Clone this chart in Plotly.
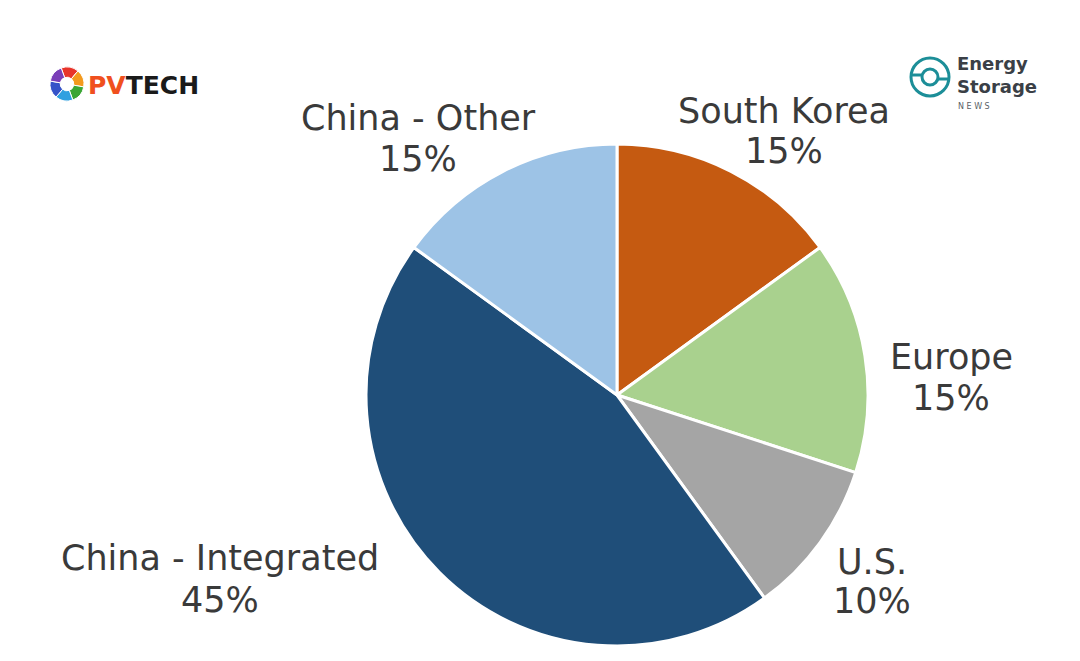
import plotly.graph_objects as go

# ---- data ----
labels = ["South Korea", "Europe", "U.S.", "China - Integrated", "China - Other"]
values = [15, 15, 10, 45, 15]
colors = ["#C55A11", "#A9D18E", "#A5A5A5", "#1F4E79", "#9DC3E6"]
pct_text = ["15%", "15%", "10%", "45%", "15%"]

# label placement (page px: center x, name line y, pct line y from top)
label_pos = {
    "South Korea": (784, 111, 151),
    "Europe": (951, 357, 398),
    "U.S.": (872, 562, 601),
    "China - Integrated": (220, 558, 600),
    "China - Other": (418, 118, 159),
}

W, H = 1080, 661
OFF = 8  # default body margin of the page


def px(x):
    return (x - OFF) / W


def py(y):
    return 1 - (y - OFF) / H


cx, cy, r = 617, 395, 251

fig = go.Figure()
fig.add_trace(go.Pie(
    labels=labels, values=values, sort=False, direction="clockwise", rotation=0,
    marker=dict(colors=colors, line=dict(color="white", width=3)),
    textinfo="none", hoverinfo="label+percent", showlegend=False,
    domain=dict(x=[px(cx - r), px(cx + r)], y=[py(cy + r), py(cy - r)]),
))

# PV Tech logo ring (decorative)
lx, ly, lr = 67, 84, 17
fig.add_trace(go.Pie(
    values=[1, 1, 1, 1, 1, 1], sort=False, direction="clockwise", rotation=-20,
    marker=dict(colors=["#E8342A", "#F39A1E", "#3BA635", "#2FA0E0", "#3553C8", "#7A3FB8"],
                line=dict(color="white", width=1)),
    hole=0.4, textinfo="none", hoverinfo="skip", showlegend=False,
    domain=dict(x=[px(lx - lr), px(lx + lr)], y=[py(ly + lr), py(ly - lr)]),
))

annotations = []
for name, pct in zip(labels, pct_text):
    x, y1, y2 = label_pos[name]
    for txt, yy in ((name, y1), (pct, y2)):
        annotations.append(dict(
            x=px(x), y=py(yy), xref="paper", yref="paper", text=txt,
            showarrow=False, xanchor="center", yanchor="middle",
            font=dict(family="DejaVu Sans", size=35, color="#3A3A3A"),
        ))

# logo texts
annotations.append(dict(
    x=px(86), y=py(85), xref="paper", yref="paper", xanchor="left", yanchor="middle",
    text="<b><span style='color:#F0501E'>PV</span><span style='color:#1A1A1A'>TECH</span></b>",
    showarrow=False, font=dict(family="DejaVu Sans", size=25),
))
annotations.append(dict(
    x=px(955), y=py(75), xref="paper", yref="paper", xanchor="left", yanchor="middle",
    align="left", text="<b>Energy<br>Storage</b>", showarrow=False,
    font=dict(family="DejaVu Sans", size=18, color="#3A3F46"),
))
annotations.append(dict(
    x=px(956), y=py(106), xref="paper", yref="paper", xanchor="left", yanchor="middle",
    text="N E W S", showarrow=False, font=dict(family="DejaVu Sans", size=8, color="#5A5F66"),
))

# Energy Storage logo icon
ex, ey, er = 930, 77, 19
ic = "#1C8E98"
shapes = [
    dict(type="circle", xref="paper", yref="paper",
         x0=px(ex - er), x1=px(ex + er), y0=py(ey + er), y1=py(ey - er),
         line=dict(color=ic, width=3)),
    dict(type="circle", xref="paper", yref="paper",
         x0=px(ex - 8), x1=px(ex + 8), y0=py(ey + 8), y1=py(ey - 8),
         line=dict(color=ic, width=3)),
    dict(type="line", xref="paper", yref="paper",
         x0=px(ex - er), x1=px(ex - 8), y0=py(ey - 2), y1=py(ey - 2),
         line=dict(color=ic, width=3)),
    dict(type="line", xref="paper", yref="paper",
         x0=px(ex + 8), x1=px(ex + er), y0=py(ey + 2), y1=py(ey + 2),
         line=dict(color=ic, width=3)),
]

fig.update_layout(
    width=W, height=H, margin=dict(l=0, r=0, t=0, b=0),
    paper_bgcolor="white", plot_bgcolor="white",
    annotations=annotations, shapes=shapes,
)

fig.write_html("out.html")
